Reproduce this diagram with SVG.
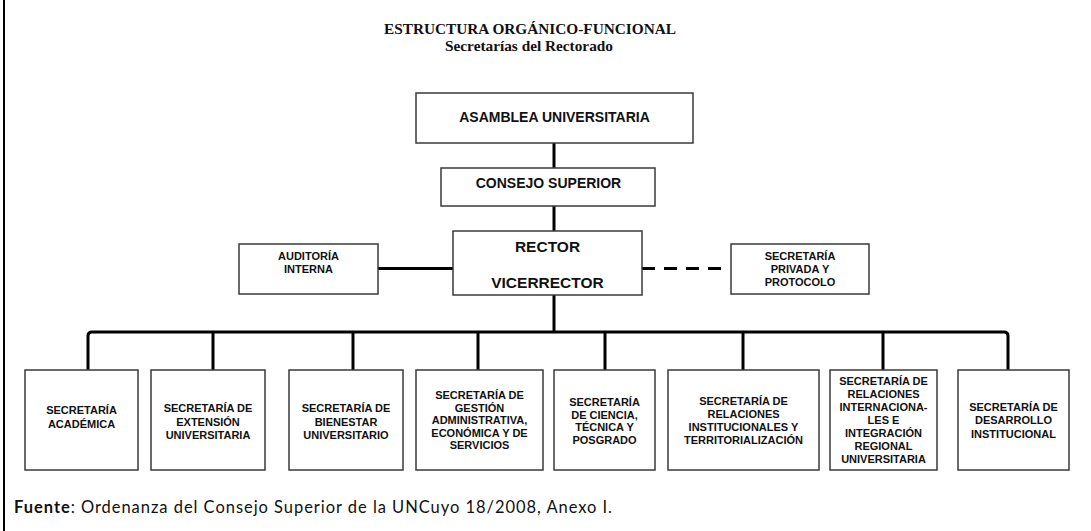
<svg xmlns="http://www.w3.org/2000/svg" width="1091" height="531" viewBox="0 0 1091 531">
<style>
.box{fill:#fff;stroke:#3a3a3a;stroke-width:1.5}
.t{font-family:"Liberation Sans",Arial,sans-serif;font-weight:bold;fill:#111;text-anchor:middle}
.s{font-size:11px}
.conn{fill:none;stroke:#000;stroke-width:3}
.title{font-family:"Liberation Serif","Times New Roman",serif;font-weight:bold;font-size:15.3px;fill:#111;text-anchor:middle}
</style>
<rect width="1091" height="531" fill="#fff"/>
<line x1="4" y1="0" x2="4" y2="531" stroke="#000" stroke-width="2"/>
<text class="title" x="530" y="34">ESTRUCTURA ORGÁNICO-FUNCIONAL</text>
<text class="title" x="529" y="51">Secretarías del Rectorado</text>
<g id="connectors">
<line class="conn" x1="554" y1="143" x2="554" y2="168"/>
<line class="conn" x1="554" y1="206" x2="554" y2="231"/>
<line class="conn" x1="378" y1="268.5" x2="453" y2="268.5" stroke-width="4.5"/>
<line class="conn" x1="642" y1="268.5" x2="722" y2="268.5" stroke-dasharray="13 9"/>
<line class="conn" x1="554" y1="295" x2="554" y2="332"/>
<path class="conn" d="M88,371 V336 Q88,332 92,332 H1004 Q1008,332 1008,336 V371"/>
<line class="conn" x1="213" y1="332" x2="213" y2="371"/>
<line class="conn" x1="353" y1="332" x2="353" y2="371"/>
<line class="conn" x1="478" y1="332" x2="478" y2="371"/>
<line class="conn" x1="605" y1="332" x2="605" y2="371"/>
<line class="conn" x1="743" y1="332" x2="743" y2="371"/>
<line class="conn" x1="883" y1="332" x2="883" y2="371"/>
</g>
<g id="asamblea">
<rect class="box" x="416" y="93" width="277" height="50"/>
<text class="t" x="554.5" y="122" font-size="14">ASAMBLEA UNIVERSITARIA</text>
</g>
<g id="consejo">
<rect class="box" x="441" y="168" width="214" height="38"/>
<text class="t" x="548.5" y="188" font-size="14">CONSEJO SUPERIOR</text>
</g>
<g id="rector">
<rect class="box" x="453" y="231" width="189" height="64"/>
<text class="t" x="547.5" y="251.5" font-size="15.5">RECTOR</text>
<text class="t" x="547.5" y="287.5" font-size="15.5">VICERRECTOR</text>
</g>
<g id="auditoria">
<rect class="box" x="239" y="244" width="139" height="50"/>
<text class="t s" x="308.5" y="260">AUDITORÍA</text>
<text class="t s" x="308.5" y="273">INTERNA</text>
</g>
<g id="privada">
<rect class="box" x="731" y="244" width="138" height="50"/>
<text class="t s" x="800" y="260">SECRETARÍA</text>
<text class="t s" x="800" y="273">PRIVADA Y</text>
<text class="t s" x="800" y="286">PROTOCOLO</text>
</g>
<g id="academica">
<rect class="box" x="25" y="370" width="113" height="100"/>
<text class="t s" x="81.5" y="414">SECRETARÍA</text>
<text class="t s" x="81.5" y="428">ACADÉMICA</text>
</g>
<g id="extension">
<rect class="box" x="151" y="370" width="114" height="100"/>
<text class="t s" x="208" y="412">SECRETARÍA DE</text>
<text class="t s" x="208" y="425.5">EXTENSIÓN</text>
<text class="t s" x="208" y="439">UNIVERSITARIA</text>
</g>
<g id="bienestar">
<rect class="box" x="289" y="370" width="114" height="100"/>
<text class="t s" x="346" y="412">SECRETARÍA DE</text>
<text class="t s" x="346" y="425.5">BIENESTAR</text>
<text class="t s" x="346" y="439">UNIVERSITARIO</text>
</g>
<g id="gestion">
<rect class="box" x="416" y="370" width="127" height="100"/>
<text class="t s" x="479.5" y="399">SECRETARÍA DE</text>
<text class="t s" x="479.5" y="411.5">GESTIÓN</text>
<text class="t s" x="479.5" y="424">ADMINISTRATIVA,</text>
<text class="t s" x="479.5" y="436.5">ECONÓMICA Y DE</text>
<text class="t s" x="479.5" y="449">SERVICIOS</text>
</g>
<g id="ciencia">
<rect class="box" x="554" y="370" width="101" height="100"/>
<text class="t s" x="604.5" y="406">SECRETARÍA</text>
<text class="t s" x="604.5" y="419">DE CIENCIA,</text>
<text class="t s" x="604.5" y="431">TÉCNICA Y</text>
<text class="t s" x="604.5" y="444">POSGRADO</text>
</g>
<g id="relaciones-institucionales">
<rect class="box" x="668" y="370" width="151" height="100"/>
<text class="t s" x="743.5" y="405">SECRETARÍA DE</text>
<text class="t s" x="743.5" y="418">RELACIONES</text>
<text class="t s" x="743.5" y="431">INSTITUCIONALES Y</text>
<text class="t s" x="743.5" y="444">TERRITORIALIZACIÓN</text>
</g>
<g id="relaciones-internacionales">
<rect class="box" x="830" y="370" width="107" height="100"/>
<text class="t s" x="883.5" y="385">SECRETARÍA DE</text>
<text class="t s" x="883.5" y="398">RELACIONES</text>
<text class="t s" x="883.5" y="411">INTERNACIONA-</text>
<text class="t s" x="883.5" y="424">LES E</text>
<text class="t s" x="883.5" y="437">INTEGRACIÓN</text>
<text class="t s" x="883.5" y="450">REGIONAL</text>
<text class="t s" x="883.5" y="463">UNIVERSITARIA</text>
</g>
<g id="desarrollo">
<rect class="box" x="958" y="370" width="111" height="100"/>
<text class="t s" x="1013.5" y="411">SECRETARÍA DE</text>
<text class="t s" x="1013.5" y="424">DESARROLLO</text>
<text class="t s" x="1013.5" y="438">INSTITUCIONAL</text>
</g>
<text x="14" y="513" font-family="Lato,'Liberation Sans',sans-serif" font-size="16.5" fill="#111" textLength="598" lengthAdjust="spacing"><tspan font-weight="bold">Fuente</tspan>: Ordenanza del Consejo Superior de la UNCuyo 18/2008, Anexo I.</text>
</svg>
